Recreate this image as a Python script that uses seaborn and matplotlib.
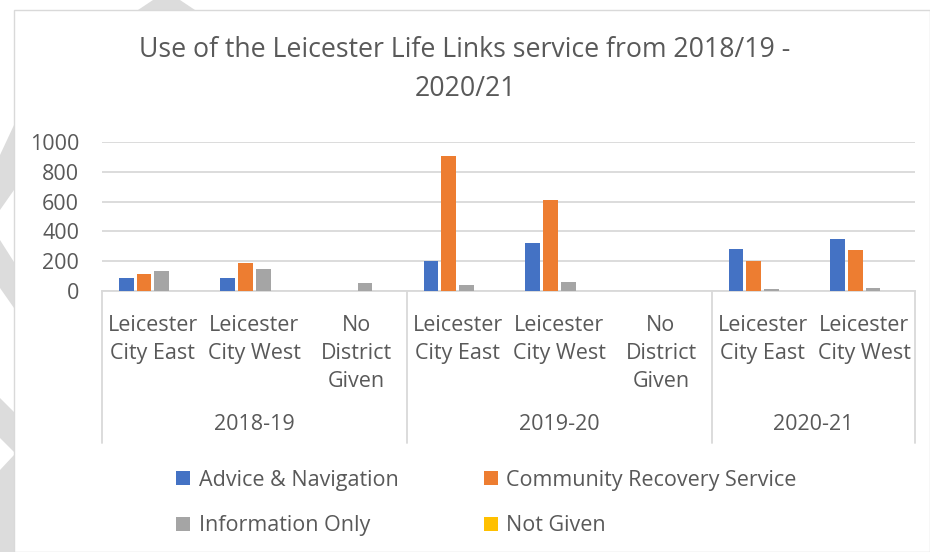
"""Leicester Life Links usage, grouped bars with a two-level category axis."""

import numpy as np
import pandas as pd
import seaborn as sns
import matplotlib.pyplot as plt
from matplotlib.patches import Patch, Polygon, Rectangle
from matplotlib.lines import Line2D

# data
years = ["2018-19", "2019-20", "2020-21"]
year_sizes = [3, 3, 2]
districts = [
    "Leicester\nCity East", "Leicester\nCity West", "No\nDistrict\nGiven",
    "Leicester\nCity East", "Leicester\nCity West", "No\nDistrict\nGiven",
    "Leicester\nCity East", "Leicester\nCity West",
]
series = ["Advice & Navigation", "Community Recovery Service", "Information Only", "Not Given"]
advice = [85, 87, 3, 201, 322, 0, 280, 349]
community = [114, 190, 0, 908, 608, 0, 201, 277]
info_only = [134, 150, 52, 38, 58, 0, 13, 18]
not_given = [0, 0, 0, 0, 0, 0, 0, 0]
colors = ["#4472C4", "#ED7D31", "#A5A5A5", "#FFC000"]

TEXT = "#595959"
GRID = "#D9D9D9"
FS = 15.5

slots = [f"s{i}" for i in range(len(districts))]
rows = []
for name, vals in zip(series, [advice, community, info_only, not_given]):
    for s, v in zip(slots, vals):
        rows.append({"slot": s, "series": name, "value": v})
df = pd.DataFrame(rows)

sns.set_theme(style="white")
plt.rcParams["font.family"] = ["Open Sans", "DejaVu Sans"]

fig = plt.figure(figsize=(9.3, 5.52), dpi=100)
W, H = 930, 552

# background chevrons of the page and the chart border
for pts in [
    [(0, 155), (14, 125), (14, 190), (0, 210)],
    [(0, 240), (14, 262), (14, 308), (0, 288)],
    [(0, 398), (14, 412), (14, 452), (0, 438)],
    [(0, 470), (14, 455), (14, 552), (0, 552)],
    [(138, 10), (153, 0), (180, 0), (195, 10)],
]:
    fig.patches.append(Polygon([(x / W, 1 - y / H) for x, y in pts], closed=True,
                               transform=fig.transFigure, facecolor="#DCDCDC",
                               edgecolor="none", zorder=-3))
fig.patches.append(Rectangle((14 / W, 0), 1 - 14 / W, 1 - 10 / H, transform=fig.transFigure,
                             facecolor="white", edgecolor=GRID, linewidth=1, zorder=-2))

x0, x1, ytop, ybot = 102, 915, 142, 291
ax = fig.add_axes([x0 / W, 1 - ybot / H, (x1 - x0) / W, (ybot - ytop) / H])
ax.set_facecolor("none")

sns.barplot(data=df, x="slot", y="value", hue="series", order=slots, hue_order=series,
            palette=colors, width=0.7, gap=0.17, linewidth=0,
            saturation=1, ax=ax, legend=False, zorder=3)

ax.set_ylim(0, 1000)
ax.set_xlim(-0.5, len(slots) - 0.5)
ax.set_yticks(np.arange(0, 1001, 200))
ax.yaxis.grid(True, color=GRID, linewidth=1.3, zorder=0)
ax.set_axisbelow(True)
for sp in ["top", "right", "left"]:
    ax.spines[sp].set_visible(False)
ax.spines["bottom"].set_color(GRID)
ax.spines["bottom"].set_linewidth(1.3)
ax.tick_params(axis="y", length=0, pad=16.5, labelsize=FS, labelcolor=TEXT)
ax.set_xlabel("")
ax.set_ylabel("")

ax.set_xticks(range(len(slots)))
ax.set_xticklabels(districts, fontsize=FS, color=TEXT, linespacing=1.45, va="top")
ax.tick_params(axis="x", length=0, pad=17)

# group labels and separators of the two-level category axis
sep_bottom = 443
bounds = np.cumsum([0] + year_sizes) - 0.5
for b in bounds:
    xf = (x0 + (b + 0.5) / len(slots) * (x1 - x0)) / W
    fig.add_artist(Line2D([xf, xf], [1 - ybot / H, 1 - sep_bottom / H], color=GRID,
                          linewidth=1.3, transform=fig.transFigure))
for i, yr in enumerate(years):
    mid = (bounds[i] + bounds[i + 1]) / 2
    xf = (x0 + (mid + 0.5) / len(slots) * (x1 - x0)) / W
    fig.text(xf, 1 - 425 / H, yr, ha="center", va="center", fontsize=FS, color=TEXT)

fig.text(465 / W, 1 - 50 / H, "Use of the Leicester Life Links service from 2018/19 -",
         ha="center", va="center", fontsize=19.2, color=TEXT)
fig.text(465 / W, 1 - 89 / H, "2020/21",
         ha="center", va="center", fontsize=19.2, color=TEXT)

handles = [Patch(facecolor=c, edgecolor="none", label=s) for s, c in zip(series, colors)]
order = [0, 2, 1, 3]
fig.legend([handles[i] for i in order], [series[i] for i in order], ncol=2,
           loc="center left", bbox_to_anchor=(157 / W, 1 - 503 / H), frameon=False,
           fontsize=FS, labelcolor=TEXT, handlelength=0.65, handleheight=0.65,
           handletextpad=0.4, columnspacing=3.95, labelspacing=1.15)

fig.savefig("out.png", dpi=100)
